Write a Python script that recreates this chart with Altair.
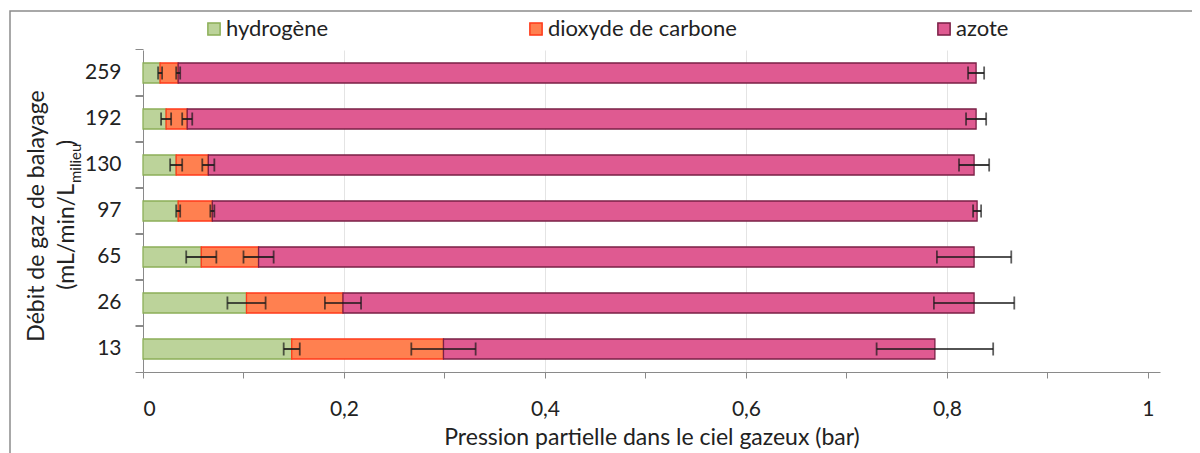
import altair as alt
import pandas as pd

cats = ["259", "192", "130", "97", "65", "26", "13"]
gases = ["hydrogène", "dioxyde de carbone", "azote"]
h2 = [0.017, 0.023, 0.033, 0.035, 0.058, 0.103, 0.148]
co2 = [0.018, 0.021, 0.032, 0.034, 0.057, 0.096, 0.151]
n2 = [0.794, 0.785, 0.762, 0.761, 0.712, 0.628, 0.489]
h2_err = [0.002, 0.005, 0.006, 0.002, 0.015, 0.019, 0.008]
co2_err = [0.002, 0.005, 0.006, 0.002, 0.015, 0.018, 0.032]
n2_err = [0.008, 0.010, 0.015, 0.004, 0.037, 0.040, 0.058]
x_ticks = [0, 0.1, 0.2, 0.3, 0.4, 0.5, 0.6, 0.7, 0.8, 0.9, 1.0]

fills = ["#bcd39a", "#ff8050", "#df5a91"]
strokes = ["#8caf58", "#ff3a1a", "#7a2046"]

rows = []
for i, c in enumerate(cats):
    vals = [h2[i], co2[i], n2[i]]
    errs = [h2_err[i], co2_err[i], n2_err[i]]
    cum = 0.0
    for k, g in enumerate(gases):
        cum += vals[k]
        rows.append({"cat": c, "gas": g, "ord": k, "value": vals[k],
                     "end": cum, "lo": cum - errs[k], "hi": cum + errs[k]})
df = pd.DataFrame(rows)

FONT = "Lato"
yscale = alt.Scale(paddingInner=0.565, paddingOuter=0.2826)
xscale = alt.Scale(domain=[0, 1.012], nice=False, zero=True)

x_axis = alt.Axis(values=x_ticks, title="Pression partielle dans le ciel gazeux (bar)",
                  labelExpr="(round(datum.value*10)%2==0) ? replace(format(datum.value, '~g'), '.', ',') : ''",
                  grid=True, gridColor="#e4e4e4",
                  gridOpacity={"condition": {"test": "round(datum.value*10)%2==0 && datum.value > 0 && datum.value < 0.99", "value": 1}, "value": 0},
                  domainColor="#8a8a8a", tickColor="#8a8a8a", tickSize=6,
                  labelFontSize=21, labelFont=FONT, labelColor="#222", labelPadding=20,
                  titleFontSize=23, titleFont=FONT, titleFontWeight="normal",
                  titleColor="#222", titlePadding=7)

leg = alt.Legend(title=None, orient="none", legendX=60, legendY=-32,
                 direction="horizontal", columns=3, columnPadding=196,
                 symbolType="square", symbolSize=150, symbolStrokeWidth=1.5,
                 labelFontSize=22, labelFont=FONT, labelColor="#222",
                 labelOffset=1, labelLimit=400)

bars = alt.Chart(df).mark_bar(strokeWidth=1.3).encode(
    x=alt.X("value:Q", stack="zero", scale=xscale, axis=x_axis),
    y=alt.Y("cat:N", sort=cats, scale=yscale,
            axis=alt.Axis(orient="left", title=None, ticks=False, domainColor="#8a8a8a",
                          labelFontSize=21, labelFont=FONT, labelColor="#222",
                          labelPadding=22, grid=False)),
    color=alt.Color("gas:N", scale=alt.Scale(domain=gases, range=fills), legend=leg),
    stroke=alt.Stroke("gas:N", scale=alt.Scale(domain=gases, range=strokes), legend=leg),
    order=alt.Order("ord:Q"),
)

rules = alt.Chart(df).mark_rule(color="#1a1a1a", strokeWidth=1.7).encode(
    x=alt.X("lo:Q", scale=xscale, axis=x_axis),
    x2="hi:Q",
    y=alt.Y("cat:N", sort=cats, scale=yscale,
            axis=alt.Axis(orient="left", title=None, labels=False, domain=False,
                          ticks=True, tickSize=8, tickColor="#8a8a8a", bandPosition=-0.65,
                          grid=False)),
)

caps_lo = alt.Chart(df).mark_tick(color="#1a1a1a", thickness=1.8, size=13).encode(
    x=alt.X("lo:Q", scale=xscale, axis=x_axis),
    y=alt.Y("cat:N", sort=cats, scale=yscale,
            axis=alt.Axis(orient="left", title=None, labels=False, domain=False,
                          ticks=True, tickSize=8, tickColor="#8a8a8a", bandPosition=1.65,
                          grid=False)),
)
caps_hi = alt.Chart(df).mark_tick(color="#1a1a1a", thickness=1.8, size=13).encode(
    x=alt.X("hi:Q", scale=xscale, axis=x_axis),
    y=alt.Y("cat:N", sort=cats, scale=yscale, axis=None),
)

one = pd.DataFrame({"a": [0]})
ytitle1 = alt.Chart(one).mark_text(angle=270, fontSize=23, font=FONT, color="#222").encode(
    x=alt.value(-106), y=alt.value(166), text=alt.value("Débit de gaz de balayage"))
ytitle2a = alt.Chart(one).mark_text(angle=270, fontSize=23, font=FONT, color="#222",
                                    align="right").encode(
    x=alt.value(-76), y=alt.value(134), text=alt.value("(mL/min/L"))
ytitle2b = alt.Chart(one).mark_text(angle=270, fontSize=15, font=FONT, color="#222",
                                    align="left").encode(
    x=alt.value(-67), y=alt.value(133), text=alt.value("milieu"))
ytitle2c = alt.Chart(one).mark_text(angle=270, fontSize=23, font=FONT, color="#222",
                                    align="left").encode(
    x=alt.value(-76), y=alt.value(96), text=alt.value(")"))
frame = alt.Chart(one).mark_rect(fill=None, stroke="#8c8c8c", strokeWidth=1.5).encode(
    x=alt.value(-133), x2=alt.value(1100), y=alt.value(-39), y2=alt.value(440))

chart = alt.layer(frame, bars, rules, caps_lo, caps_hi,
                  ytitle1, ytitle2a, ytitle2b, ytitle2c).resolve_axis(
    y="independent"
).properties(
    width=1017, height=322,
    autosize=alt.AutoSizeParams(type="none"),
    padding={"left": 135, "top": 42, "right": 32, "bottom": 88},
).configure(background="white").configure_view(stroke=None)

chart.save("out.html", embed_options={"renderer": "svg", "actions": False})
